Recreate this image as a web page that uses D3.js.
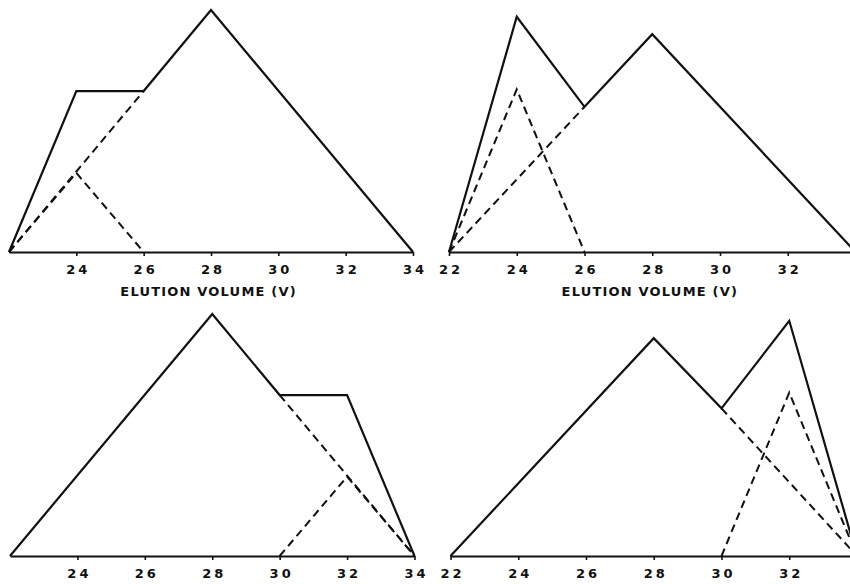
<!DOCTYPE html>
<html>
<head>
<meta charset="utf-8">
<script src="https://cdn.jsdelivr.net/npm/d3@7"></script>
<style>
  html, body { margin: 0; padding: 0; background: #fff; }
  svg { display: block; }
  .tick text, .title { font-family: "DejaVu Sans", sans-serif; font-weight: bold; fill: #111; }
</style>
</head>
<body>
<svg id="chart" width="850" height="584"></svg>
<script>
// ---------- DATA (elution volume V, relative absorbance) ----------
const xDomain = [22, 34];
const yDomain = [0, 100];

const ticksTopLeft = [24, 26, 28, 30, 32, 34];
const ticksTopRight = [22, 24, 26, 28, 30, 32];
const ticksBottomLeft = [24, 26, 28, 30, 32, 34];
const ticksBottomRight = [22, 24, 26, 28, 30, 32];
const axisTitle = "ELUTION VOLUME (V)";

// top-left panel
const tlTotalV = [22, 24, 26, 28, 34];
const tlTotalA = [0, 66.5, 66.5, 100, 0];
const tlSmallV = [22, 24, 26];
const tlSmallA = [0, 32.7, 0];
const tlLargeDashV = [22, 26];
const tlLargeDashA = [0, 66.5];

// top-right panel
const trTotalV = [22, 24, 26, 28, 34];
const trTotalA = [0, 97.2, 60, 90, 0];
const trSmallV = [22, 24, 26];
const trSmallA = [0, 67.2, 0];
const trLargeDashV = [22, 26];
const trLargeDashA = [0, 60];

// bottom-left panel
const blTotalV = [22, 28, 30, 32, 34];
const blTotalA = [0, 100, 66.5, 66.5, 0];
const blSmallV = [30, 32, 34];
const blSmallA = [0, 32.8, 0];
const blLargeDashV = [30, 34];
const blLargeDashA = [66.5, 0];

// bottom-right panel
const brTotalV = [22, 28, 30, 32, 34];
const brTotalA = [0, 90, 61, 97.2, 0];
const brSmallV = [30, 32, 34];
const brSmallA = [0, 67.5, 0];
const brLargeDashV = [30, 34];
const brLargeDashA = [61, 0];

// ---------- LAYOUT ----------
const panels = [
  { x0: 9,     x1: 413,   base: 252, top: 10,  ticks: ticksTopLeft,     title: true,
    solid: [tlTotalV, tlTotalA], dashed: [[tlSmallV, tlSmallA], [tlLargeDashV, tlLargeDashA]] },
  { x0: 449,   x1: 855.5, base: 252, top: 10,  ticks: ticksTopRight,    title: true,
    solid: [trTotalV, trTotalA], dashed: [[trSmallV, trSmallA], [trLargeDashV, trLargeDashA]] },
  { x0: 10,    x1: 414.5, base: 556, top: 314, ticks: ticksBottomLeft,  title: false,
    solid: [blTotalV, blTotalA], dashed: [[blSmallV, blSmallA], [blLargeDashV, blLargeDashA]] },
  { x0: 450.5, x1: 857,   base: 556, top: 314, ticks: ticksBottomRight, title: false,
    solid: [brTotalV, brTotalA], dashed: [[brSmallV, brSmallA], [brLargeDashV, brLargeDashA]] }
];

const svg = d3.select("#chart");
svg.append("rect").attr("width", 850).attr("height", 584).attr("fill", "#fff");

const zip = (vs, as) => vs.map((v, i) => [v, as[i]]);

panels.forEach(p => {
  const x = d3.scaleLinear().domain(xDomain).range([p.x0, p.x1]);
  const y = d3.scaleLinear().domain(yDomain).range([p.base, p.top]);
  const g = svg.append("g");

  const axis = d3.axisBottom(x)
    .tickValues(p.ticks)
    .tickFormat(d3.format("d"))
    .tickSize(4)
    .tickSizeOuter(0)
    .tickPadding(9);

  const ax = g.append("g").attr("transform", `translate(0,${p.base})`).call(axis);
  ax.select(".domain").attr("stroke", "#111").attr("stroke-width", 2);
  ax.selectAll(".tick line").attr("stroke", "#111").attr("stroke-width", 1.6);
  ax.selectAll(".tick text")
    .attr("font-size", 13)
    .attr("letter-spacing", "3px")
    .attr("dx", "1.5px");

  if (p.title) {
    g.append("text")
      .attr("class", "title")
      .attr("x", x(28) - 3)
      .attr("y", p.base + 43.5)
      .attr("text-anchor", "middle")
      .attr("font-size", 13)
      .attr("letter-spacing", "1.2px")
      .attr("dx", "0.6px")
      .text(axisTitle);
  }

  const line = d3.line().x(d => x(d[0])).y(d => y(d[1]));

  p.dashed.forEach(([vs, as]) => {
    g.append("path")
      .attr("d", line(zip(vs, as)))
      .attr("fill", "none")
      .attr("stroke", "#111")
      .attr("stroke-width", 2)
      .attr("stroke-dasharray", "8,5");
  });

  g.append("path")
    .attr("d", line(zip(p.solid[0], p.solid[1])))
    .attr("fill", "none")
    .attr("stroke", "#111")
    .attr("stroke-width", 2.2)
    .attr("stroke-linejoin", "miter");
});
</script>
</body>
</html>
